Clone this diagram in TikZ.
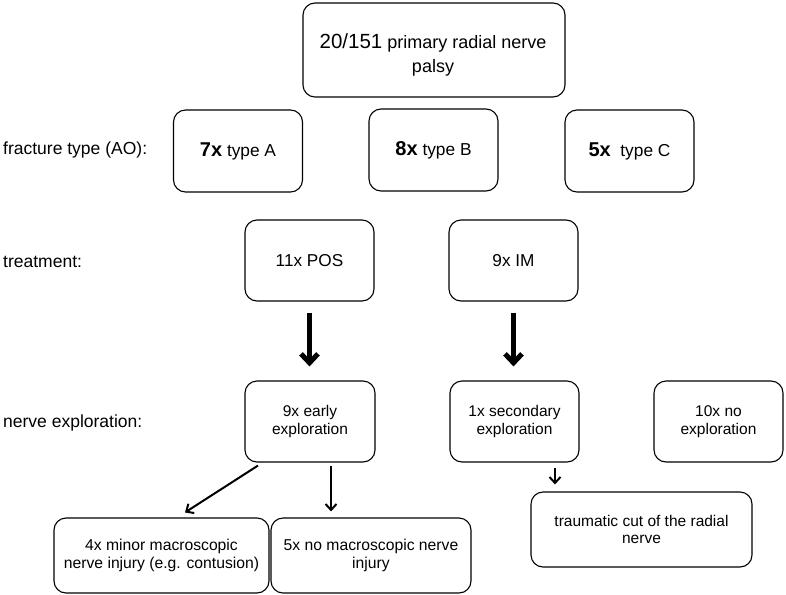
\documentclass[tikz,border=0pt]{standalone}
\usepackage{fontspec}
\setmainfont{Liberation Sans}
\usetikzlibrary{arrows.meta,calc}
\begin{document}
\begin{tikzpicture}[x=1pt,y=-1pt,
  box/.style={draw, rounded corners=12pt, line width=1.1pt, align=center, inner sep=0pt, font=\fontsize{15.5}{17.5}\selectfont},
  lab/.style={anchor=west, inner sep=0pt, font=\fontsize{17.5}{18}\selectfont},
  typebox/.style={box, minimum width=129pt, minimum height=82pt, font=\fontsize{17.3}{18}\selectfont},
  bigarrow/.style={line width=5pt, -{Straight Barb[length=9pt,width=17pt,line width=5pt]}},
  thinarrow/.style={line width=2pt, -{Straight Barb[length=6pt,width=11pt,line width=2pt]}}]
\useasboundingbox (0,0) rectangle (786,594);
% top
\node[box, minimum width=262pt, minimum height=94pt] (top) at (434,50) {};
\node[align=center, inner sep=0pt, font=\fontsize{18}{24}\selectfont] (toptext) at (433,55) {{\fontsize{20.5}{24}\selectfont 20/151} primary radial nerve\\palsy};
% labels
\node[lab] (l1) at (3,150) {fracture type (AO):};
\node[lab] (l2) at (3,262) {treatment:};
\node[lab] (l3) at (3,423) {nerve exploration:};
% fracture types
\node[typebox] (ta) at (238,151) {{\fontsize{20}{18}\selectfont\bfseries 7x} type A};
\node[typebox] (tb) at (433.5,150) {{\fontsize{20}{18}\selectfont\bfseries 8x} type B};
\node[typebox] (tc) at (629.5,151) {{\fontsize{20}{18}\selectfont\bfseries 5x}\ \ type C};
% treatment
\node[box, minimum width=129pt, minimum height=81pt, font=\fontsize{17.2}{18}\selectfont] (pos) at (309.5,260.5) {11x POS};
\node[box, minimum width=129pt, minimum height=81pt, font=\fontsize{17.2}{18}\selectfont] (im) at (513.5,260.5) {9x IM};
% exploration
\node[box, minimum width=130pt, minimum height=81pt] (early) at (310,421.5) {9x early\\exploration};
\node[box, minimum width=129pt, minimum height=81pt] (sec) at (514.5,421.5) {1x secondary\\exploration};
\node[box, minimum width=129pt, minimum height=81pt] (noexp) at (718.5,421.5) {10x no\\exploration};
% results
\node[box, minimum width=215pt, minimum height=75pt, font=\fontsize{15.7}{18}\selectfont] (minor) at (161.5,555.5) {4x minor macroscopic\\nerve injury (e.g. contusion)};
\node[box, minimum width=200pt, minimum height=75pt, font=\fontsize{15.7}{18}\selectfont] (nomac) at (371,555.5) {5x no macroscopic nerve\\injury};
\node[box, minimum width=221pt, minimum height=75pt, font=\fontsize{15.5}{17}\selectfont] (cut) at (641.5,529.5) {traumatic cut of the radial\\nerve};
% arrows
\draw[bigarrow, shorten <=11pt, shorten >=14pt] (pos.south) -- (early.north -| pos.south);
\draw[bigarrow, shorten <=11pt, shorten >=14pt] (im.south) -- (sec.north -| im.south);
\draw[thinarrow] ($(early.south)+(-52,3)$) -- ($(minor.north)+(23.5,-5)$);
\draw[thinarrow] ($(early.south)+(21,3)$) -- ($(nomac.north)+(-40,-6)$);
\draw[thinarrow] ($(sec.south)+(40.5,5)$) -- ($(cut.north)+(-86.5,-7)$);
\end{tikzpicture}
\end{document}
